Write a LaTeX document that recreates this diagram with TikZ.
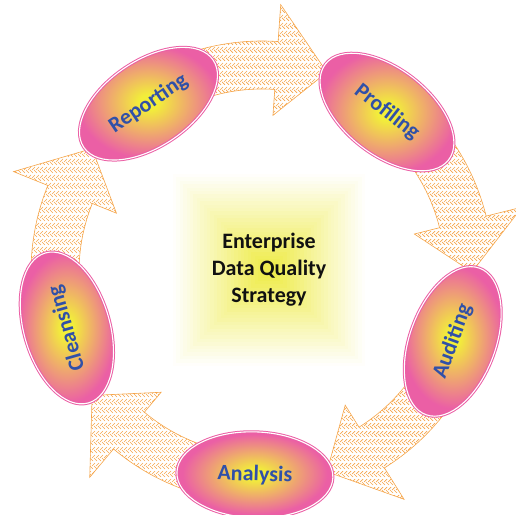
\documentclass[tikz,border=0pt]{standalone}
\usepackage{fontspec}
\setmainfont{Carlito}
\usepackage{tikz}
\usetikzlibrary{shapes.geometric, patterns.meta}
\definecolor{cPink}{HTML}{EB5FA5}
\definecolor{cYellow}{HTML}{F2EE3A}
\definecolor{cBlue}{HTML}{3050A8}
\definecolor{cOrange}{HTML}{F5A54A}
\definecolor{cGlow}{HTML}{EDEA3C}
\definecolor{cInk}{HTML}{111111}

% yellow core fading out to pink at the rim
\pgfdeclareradialshading{stageglow}{\pgfpoint{0bp}{0bp}}{%
  color(0bp)=(cYellow); color(3bp)=(cYellow); color(23bp)=(cPink); color(50bp)=(cPink)}

% woven fill for the flow arrows
\tikzdeclarepattern{
  name=weave, type=uncolored,
  bottom left={(-.5pt,-.5pt)}, top right={(8.5pt,8.5pt)},
  tile size={(8pt,8pt)},
  code={
    \draw[line width=0.7pt] (0pt,0pt) -- (3pt,3pt) (4pt,0pt) -- (7pt,3pt)
      (2pt,8pt) -- (5pt,5pt) (6pt,8pt) -- (8pt,6pt) (0pt,6pt) -- (1pt,5pt);
  }
}

\begin{document}
\begin{tikzpicture}[x=1pt, y=1pt,
  stage/.style={ellipse, minimum width=156, minimum height=86, inner sep=0pt,
    shade, shading=stageglow, draw=cPink, line width=1pt, double=white,
    double distance=1.1pt, text=cBlue, font=\bfseries\fontsize{22}{26}\selectfont},
  flow/.style={pattern={weave}, pattern color=cOrange, draw=cOrange, line width=0.6pt}]
  \useasboundingbox (-262,-242) rectangle (254,272);
  % soft square behind the title
  \foreach \i in {0,...,26} {
    \pgfmathsetmacro{\h}{96-3.4*\i}
    \pgfmathtruncatemacro{\tint}{2+3.4*\i}
    \fill[cGlow!\tint!white] (7-\h, 2-\h) rectangle (7+\h, 2+\h);
  }
  % flow arrows between the stages
  \foreach \a in {124,52,-20,-92,-164}
    \draw[flow] ({\a-10}:231) arc[start angle=\a-10, end angle=\a-38, radius=231]
      -- ({\a-38}:268) -- ({\a-52}:210) -- ({\a-38}:157) -- ({\a-38}:183)
      arc[start angle=\a-38, end angle=\a-10, radius=183] -- cycle;
  % stages
  \node[stage, rotate=34]  (report)  at (124:203)  {Reporting};
  \node[stage, rotate=-38] (profile) at (52:203)   {Profiling};
  \node[stage, rotate=70]  (audit)   at (-20:203)  {Auditing};
  \node[stage, rotate=-2]  (analyse) at (-92:203)  {Analysis};
  \node[stage, rotate=106] (cleanse) at (-164:203) {Cleansing};
  \node[font=\bfseries\fontsize{22}{27}\selectfont, text=cInk, align=center] (core) at (7,2)
    {Enterprise\\Data Quality\\Strategy};
\end{tikzpicture}
\end{document}
